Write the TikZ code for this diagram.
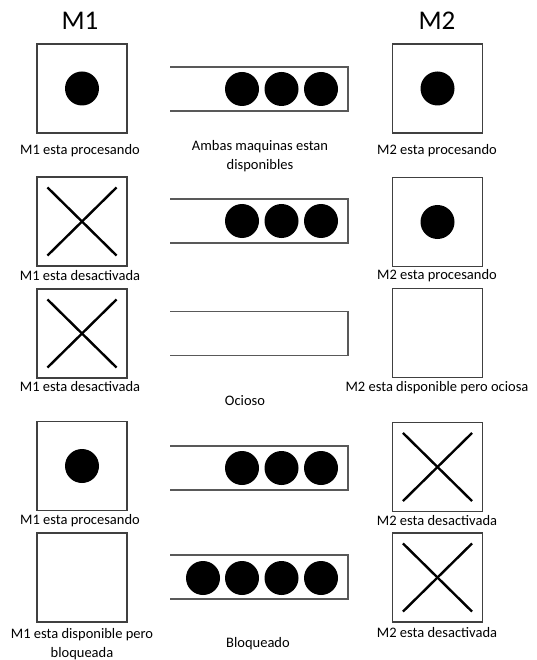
\documentclass[tikz,border=0pt]{standalone}
\usepackage{fontspec}
\setmainfont{Carlito}
\begin{document}
\begin{tikzpicture}[x=1pt,y=-1pt,
  mach/.style={draw=black!75,line width=1.2pt,minimum width=90pt,minimum height=89pt,inner sep=0pt},
  dot/.style={circle,fill=black,minimum size=34pt,inner sep=0pt},
  bdot/.style={circle,fill=black,minimum size=34pt,inner sep=0pt},
  lbl/.style={font=\fontsize{14.5}{19}\selectfont,align=center,inner sep=0pt},
  ttl/.style={font=\fontsize{27}{30}\selectfont,inner sep=0pt},
  buf/.style={draw=black!65,line width=1.6pt},
  xline/.style={line width=2.4pt,black}]
\useasboundingbox (0,0) rectangle (537,660);
% titles
\node[ttl] (t1) at (80,21) {M1};
\node[ttl] (t2) at (437,21) {M2};
% machine boxes
\node[mach] (a1) at (82,88.5) {};
\node[mach] (a2) at (82,221.5) {};
\node[mach] (a3) at (82,333.5) {};
\node[mach] (a4) at (82,466) {};
\node[mach] (a5) at (82,577.5) {};
\node[mach] (b1) at (437.5,88.5) {};
\node[mach] (b2) at (437.5,222) {};
\node[mach] (b3) at (437.5,333) {};
\node[mach] (b4) at (437.5,467) {};
\node[mach] (b5) at (437.5,577.5) {};
% dots in machines
\node[dot] (da1) at (a1) {};
\node[dot] (da4) at (a4) {};
\node[dot] (db1) at (b1) {};
\node[dot] (db2) at (b2) {};
% crosses
\foreach \m in {a2,a3,b4,b5}{
  \draw[xline] ([shift={(11,11)}]\m.north west) -- ([shift={(-11,-11)}]\m.south east);
  \draw[xline] ([shift={(-11,11)}]\m.north east) -- ([shift={(11,-11)}]\m.south west);
}
% buffers
\foreach \n/\yc in {1/89,2/221,3/333.5,4/468,5/577}{
  \coordinate (q\n tl) at (170,\yc-22);
  \coordinate (q\n tr) at (348,\yc-22);
  \coordinate (q\n br) at (348,\yc+22);
  \coordinate (q\n bl) at (170,\yc+22);
  \draw[buf] (q\n tl) -- (q\n tr) -- (q\n br) -- (q\n bl);
}
% buffer parts
\node[bdot] (p11) at (242,89) {};
\node[bdot] (p12) at (281.5,89) {};
\node[bdot] (p13) at (321,89) {};
\node[bdot] (p21) at (242,221) {};
\node[bdot] (p22) at (281.5,221) {};
\node[bdot] (p23) at (321,221) {};
\node[bdot] (p41) at (242,468) {};
\node[bdot] (p42) at (281.5,468) {};
\node[bdot] (p43) at (321,468) {};
\node[bdot] (p51) at (203,578) {};
\node[bdot] (p52) at (242,578) {};
\node[bdot] (p53) at (281.5,578) {};
\node[bdot] (p54) at (321,578) {};
% labels
\node[lbl] (la1) at (80,151) {M1 esta procesando};
\node[lbl] (la2) at (80,276) {M1 esta desactivada};
\node[lbl] (la3) at (80,387) {M1 esta desactivada};
\node[lbl] (la4) at (80,521) {M1 esta procesando};
\node[lbl] (la5) at (82,644) {M1 esta disponible pero\\bloqueada};
\node[lbl] (lb1) at (437,151) {M2 esta procesando};
\node[lbl] (lb2) at (437,276) {M2 esta procesando};
\node[lbl] (lb3) at (437,388) {M2 esta disponible pero ociosa};
\node[lbl] (lb4) at (437,521) {M2 esta desactivada};
\node[lbl] (lb5) at (437,633) {M2 esta desactivada};
\node[lbl] (lc1) at (260,156) {Ambas maquinas estan\\disponibles};
\node[lbl] (lc3) at (245,401) {Ocioso};
\node[lbl] (lc5) at (258,644) {Bloqueado};
\end{tikzpicture}
\end{document}
